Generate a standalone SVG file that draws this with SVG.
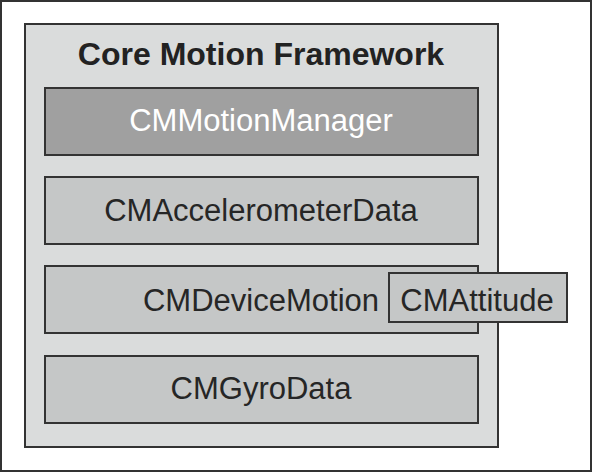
<svg xmlns="http://www.w3.org/2000/svg" width="592" height="472" viewBox="0 0 592 472">
<style>
.box{fill:#c5c7c7;stroke:#333;stroke-width:2}
.lbl{font-family:"Liberation Sans",Arial,sans-serif;font-size:31px;fill:#262626;text-anchor:middle}
</style>
<rect x="1" y="1" width="590" height="470" fill="#fff" stroke="#333" stroke-width="2"/>
<g id="framework">
<rect x="25" y="24" width="473" height="423" fill="#dadcdc" stroke="#333" stroke-width="2"/>
<text x="261" y="65" font-family="'Liberation Sans',Arial,sans-serif" font-size="32" font-weight="bold" fill="#222" text-anchor="middle">Core Motion Framework</text>
</g>
<g id="motionmanager">
<rect x="45" y="88" width="433" height="67" fill="#a0a0a0" stroke="#333" stroke-width="2"/>
<text class="lbl" x="261" y="131" style="fill:#fff">CMMotionManager</text>
</g>
<g id="accelerometer">
<rect class="box" x="45" y="177" width="433" height="67"/>
<text class="lbl" x="261" y="221">CMAccelerometerData</text>
</g>
<g id="devicemotion">
<rect class="box" x="45" y="266" width="433" height="67"/>
<text class="lbl" x="261" y="311">CMDeviceMotion</text>
</g>
<g id="attitude">
<rect class="box" x="389" y="273" width="178" height="49"/>
<text class="lbl" x="477" y="311">CMAttitude</text>
</g>
<g id="gyrodata">
<rect class="box" x="45" y="356" width="433" height="67"/>
<text class="lbl" x="261" y="399">CMGyroData</text>
</g>
<g id="connectors"></g>
</svg>
